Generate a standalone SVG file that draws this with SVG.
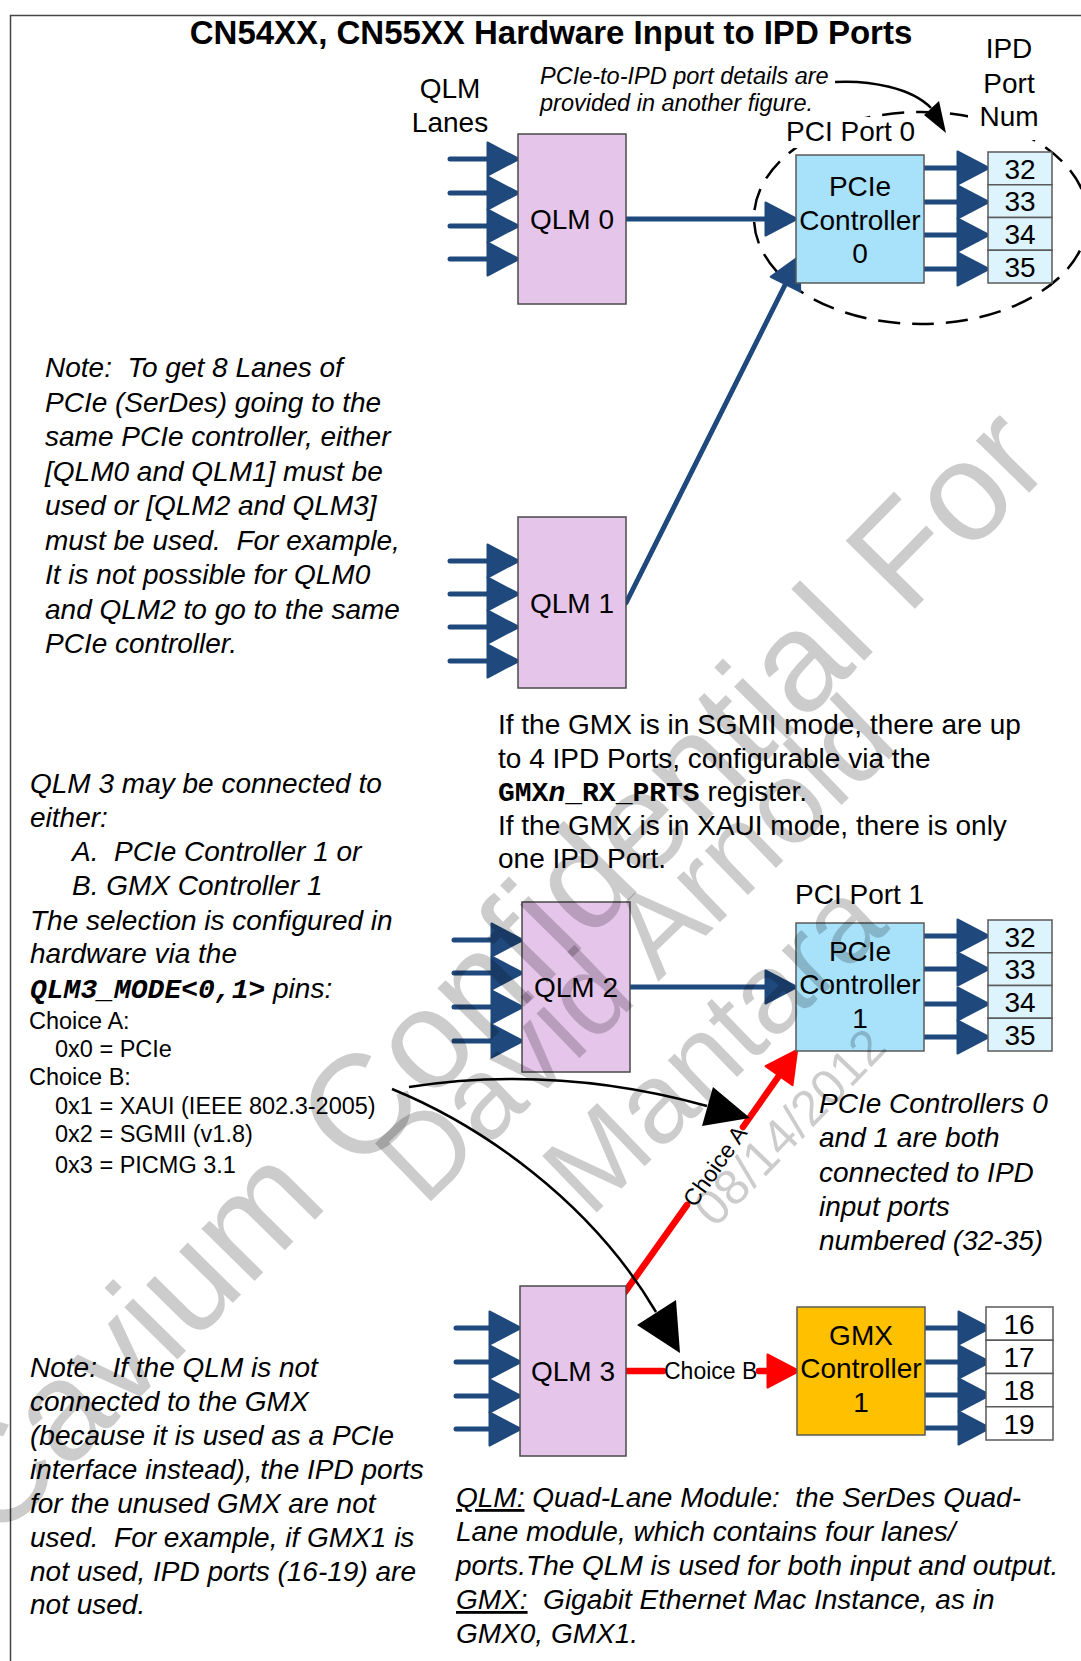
<svg xmlns="http://www.w3.org/2000/svg" width="1081" height="1661" viewBox="0 0 1081 1661">
<style>
text{font-family:"Liberation Sans",Arial,sans-serif;fill:#000;white-space:pre}
.t{font-size:28px}
.i{font-size:28px;font-style:italic}
.s{font-size:23.5px}
.c{font-size:28px;text-anchor:middle}
.mono{font-family:"Liberation Mono","Courier New",monospace;font-weight:bold}
.qlm{fill:#E6C5EB;stroke:#4a4a4a;stroke-width:1.5}
.pcie{fill:#A8E2FA;stroke:#5a5a5a;stroke-width:1.5}
.port{fill:#DDF3FD;stroke:#5a5a5a;stroke-width:1.5}
.gport{fill:#FFFFFF;stroke:#5a5a5a;stroke-width:1.5}
.gmx{fill:#FFC000;stroke:#5a5a5a;stroke-width:1.5}
.bl{stroke:#1F497D;stroke-width:5;fill:none;stroke-linecap:round;marker-end:url(#ab)}
.rd{stroke:#FF0000;stroke-width:6.5;fill:none;stroke-linecap:round}
.bk{stroke:#000;stroke-width:2.5;fill:none}
.wm{fill:#000;fill-opacity:0.2;font-family:"Liberation Sans",Arial,sans-serif}
</style>
<defs>
<marker id="ab" markerUnits="userSpaceOnUse" viewBox="0 0 34 36" refX="24" refY="18" markerWidth="34" markerHeight="36" orient="auto">
<path d="M1.5,1.5 L33,18 L1.5,34.5 Z" fill="#1F497D" stroke="#1F497D" stroke-width="2" stroke-linejoin="round"/>
</marker>
<marker id="ar" markerUnits="userSpaceOnUse" viewBox="0 0 34 36" refX="24" refY="18" markerWidth="34" markerHeight="36" orient="auto">
<path d="M1.5,1.5 L33,18 L1.5,34.5 Z" fill="#FF0000" stroke="#FF0000" stroke-width="2" stroke-linejoin="round"/>
</marker>
</defs>
<rect width="1081" height="1661" fill="#fff"/>
<g id="frame" stroke="#444" stroke-width="1.5" fill="none">
<path d="M10.5,1661 V15.5 H1081"/>
</g>

<g id="pci-port0-outline">
<ellipse cx="921" cy="218" rx="167" ry="106" fill="none" stroke="#000" stroke-width="2.5" stroke-dasharray="22 12"/>
</g>

<g id="labels">
<text x="551" y="44" style="font-size:33px;font-weight:bold;text-anchor:middle">CN54XX, CN55XX Hardware Input to IPD Ports</text>
<rect x="968" y="30" width="74" height="110" fill="#fff"/>
<text class="c" x="1009" y="58">IPD</text>
<text class="c" x="1009" y="92.5">Port</text>
<text class="c" x="1009" y="126">Num</text>
<text class="c" x="450" y="97.5">QLM</text>
<text class="c" x="450" y="131.5">Lanes</text>
<text x="540" y="84" style="font-size:23.5px;font-style:italic">PCIe-to-IPD port details are</text>
<text x="540" y="111" style="font-size:23.5px;font-style:italic">provided in another figure.</text>
<rect x="782" y="117" width="136" height="31" fill="#fff"/>
<text class="t" x="786" y="141">PCI Port 0</text>
<text class="t" x="795" y="904">PCI Port 1</text>
</g>

<g id="note1">
<text class="i" x="45" y="377">Note:  To get 8 Lanes of</text>
<text class="i" x="45" y="411.5">PCIe (SerDes) going to the</text>
<text class="i" x="45" y="446">same PCIe controller, either</text>
<text class="i" x="45" y="480.5">[QLM0 and QLM1] must be</text>
<text class="i" x="45" y="515">used or [QLM2 and QLM3]</text>
<text class="i" x="45" y="549.5">must be used.  For example,</text>
<text class="i" x="45" y="584">It is not possible for QLM0</text>
<text class="i" x="45" y="618.5">and QLM2 to go to the same</text>
<text class="i" x="45" y="653">PCIe controller.</text>
</g>

<g id="note-qlm3">
<text class="i" x="30" y="793">QLM 3 may be connected to</text>
<text class="i" x="30" y="827">either:</text>
<text class="i" x="72" y="861">A.  PCIe Controller 1 or</text>
<text class="i" x="72" y="895">B. GMX Controller 1</text>
<text class="i" x="30" y="930">The selection is configured in</text>
<text class="i" x="30" y="963">hardware via the</text>
<text class="i" x="30" y="998"><tspan class="mono">QLM3_MODE&lt;0,1&gt;</tspan> pins:</text>
<text class="s" x="29" y="1029">Choice A:</text>
<text class="s" x="55" y="1057">0x0 = PCIe</text>
<text class="s" x="29" y="1085">Choice B:</text>
<text class="s" x="55" y="1114">0x1 = XAUI (IEEE 802.3-2005)</text>
<text class="s" x="55" y="1142">0x2 = SGMII (v1.8)</text>
<text class="s" x="55" y="1173">0x3 = PICMG 3.1</text>
</g>

<g id="note-gmx-mode">
<text class="t" x="498" y="734">If the GMX is in SGMII mode, there are up</text>
<text class="t" x="498" y="767.5">to 4 IPD Ports, configurable via the</text>
<text class="t" x="498" y="801"><tspan class="mono">GMX<tspan font-style="italic">n</tspan>_RX_PRTS</tspan> register.</text>
<text class="t" x="498" y="835">If the GMX is in XAUI mode, there is only</text>
<text class="t" x="498" y="868">one IPD Port.</text>
</g>

<g id="note-pcie">
<text class="i" x="819" y="1113">PCIe Controllers 0</text>
<text class="i" x="819" y="1147">and 1 are both</text>
<text class="i" x="819" y="1182">connected to IPD</text>
<text class="i" x="819" y="1216">input ports</text>
<text class="i" x="819" y="1250">numbered (32-35)</text>
</g>

<g id="note-unused">
<text class="i" x="30" y="1377">Note:  If the QLM is not</text>
<text class="i" x="30" y="1411">connected to the GMX</text>
<text class="i" x="30" y="1445">(because it is used as a PCIe</text>
<text class="i" x="30" y="1479">interface instead), the IPD ports</text>
<text class="i" x="30" y="1513">for the unused GMX are not</text>
<text class="i" x="30" y="1547">used.  For example, if GMX1 is</text>
<text class="i" x="30" y="1581">not used, IPD ports (16-19) are</text>
<text class="i" x="30" y="1614">not used.</text>
</g>

<g id="glossary">
<text class="i" x="456" y="1507"><tspan text-decoration="underline">QLM:</tspan> Quad-Lane Module:  the SerDes Quad-</text>
<text class="i" x="456" y="1541">Lane module, which contains four lanes/</text>
<text class="i" x="456" y="1575">ports.The QLM is used for both input and output.</text>
<text class="i" x="456" y="1609"><tspan text-decoration="underline">GMX:</tspan>  Gigabit Ethernet Mac Instance, as in</text>
<text class="i" x="456" y="1643">GMX0, GMX1.</text>
</g>

<g id="connectors">
<!-- lanes -->
<line class="bl" x1="450" y1="159" x2="510" y2="159"/><line class="bl" x1="450" y1="193" x2="510" y2="193"/>
<line class="bl" x1="450" y1="226" x2="510" y2="226"/><line class="bl" x1="450" y1="259" x2="510" y2="259"/>
<line class="bl" x1="450" y1="561" x2="510" y2="561"/><line class="bl" x1="450" y1="594" x2="510" y2="594"/>
<line class="bl" x1="450" y1="627" x2="510" y2="627"/><line class="bl" x1="450" y1="661" x2="510" y2="661"/>
<line class="bl" x1="454" y1="940" x2="514" y2="940"/><line class="bl" x1="454" y1="973" x2="514" y2="973"/>
<line class="bl" x1="454" y1="1007" x2="514" y2="1007"/><line class="bl" x1="454" y1="1041" x2="514" y2="1041"/>
<line class="bl" x1="456" y1="1328" x2="512" y2="1328"/><line class="bl" x1="456" y1="1362" x2="512" y2="1362"/>
<line class="bl" x1="456" y1="1396" x2="512" y2="1396"/><line class="bl" x1="456" y1="1429" x2="512" y2="1429"/>
<!-- outputs -->
<line class="bl" x1="924" y1="168" x2="980" y2="168"/><line class="bl" x1="924" y1="202" x2="980" y2="202"/>
<line class="bl" x1="924" y1="235" x2="980" y2="235"/><line class="bl" x1="924" y1="269" x2="980" y2="269"/>
<line class="bl" x1="924" y1="936" x2="980" y2="936"/><line class="bl" x1="924" y1="969" x2="980" y2="969"/>
<line class="bl" x1="924" y1="1004" x2="980" y2="1004"/><line class="bl" x1="924" y1="1037" x2="980" y2="1037"/>
<line class="bl" x1="923" y1="1328" x2="981" y2="1328"/><line class="bl" x1="923" y1="1362" x2="981" y2="1362"/>
<line class="bl" x1="923" y1="1395" x2="981" y2="1395"/><line class="bl" x1="923" y1="1428" x2="981" y2="1428"/>
<!-- QLM to controllers -->
<line class="bl" x1="626" y1="219" x2="788" y2="219"/>
<line class="bl" x1="626" y1="603" x2="795.5" y2="264"/>
<line class="bl" x1="630" y1="987" x2="788" y2="987"/>
<!-- red choices -->
<path class="rd" d="M626,1371H663"/>
<path class="rd" d="M759,1371H790" marker-end="url(#ar)"/>
<path class="rd" d="M625,1292L687,1205"/>
<path class="rd" d="M743,1127L792,1057.3" marker-end="url(#ar)"/>
<text x="664" y="1379" style="font-size:23px">Choice B</text>
<text transform="translate(715,1166) rotate(-54.6)" x="0" y="8" style="font-size:23px;text-anchor:middle">Choice A</text>
<!-- black callout arrows -->
<path class="bk" d="M835,82 C870,80 912,88 931,108"/>
<polygon points="924,115 939,101 946,133" fill="#000"/>
<path class="bk" d="M409,1087 C520,1070 620,1082 707,1106"/>
<polygon points="713,1087 702,1126 750,1118" fill="#000"/>
<path class="bk" d="M392,1089 C480,1125 590,1200 656,1312"/>
<polygon points="637,1325 676,1300 680,1353" fill="#000"/>
</g>

<g id="qlm0"><rect class="qlm" x="518" y="134" width="108" height="170"/><text class="c" x="572" y="229">QLM 0</text></g>
<g id="qlm1"><rect class="qlm" x="518" y="517" width="108" height="171"/><text class="c" x="572" y="612.5">QLM 1</text></g>
<g id="qlm2"><rect class="qlm" x="522" y="902" width="108" height="170"/><text class="c" x="576" y="997">QLM 2</text></g>
<g id="qlm3"><rect class="qlm" x="520" y="1286" width="106" height="170"/><text class="c" x="573" y="1381">QLM 3</text></g>

<g id="pcie0"><rect class="pcie" x="796" y="155" width="128" height="128"/>
<text class="c" x="860" y="196">PCIe</text><text class="c" x="860" y="230">Controller</text><text class="c" x="860" y="263">0</text></g>
<g id="ports0">
<rect class="port" x="988" y="152" width="64" height="32.75"/><rect class="port" x="988" y="184.75" width="64" height="32.75"/>
<rect class="port" x="988" y="217.5" width="64" height="32.75"/><rect class="port" x="988" y="250.25" width="64" height="32.75"/>
<text class="c" x="1020" y="178.5">32</text><text class="c" x="1020" y="211">33</text><text class="c" x="1020" y="244">34</text><text class="c" x="1020" y="277">35</text>
</g>

<g id="pcie1"><rect class="pcie" x="796" y="923" width="128" height="128"/>
<text class="c" x="860" y="961">PCIe</text><text class="c" x="860" y="994">Controller</text><text class="c" x="860" y="1028">1</text></g>
<g id="ports1">
<rect class="port" x="988" y="920" width="64" height="32.75"/><rect class="port" x="988" y="952.75" width="64" height="32.75"/>
<rect class="port" x="988" y="985.5" width="64" height="32.75"/><rect class="port" x="988" y="1018.25" width="64" height="32.75"/>
<text class="c" x="1020" y="946.5">32</text><text class="c" x="1020" y="979">33</text><text class="c" x="1020" y="1012">34</text><text class="c" x="1020" y="1045">35</text>
</g>

<g id="gmx1"><rect class="gmx" x="797" y="1307" width="128" height="128"/>
<text class="c" x="861" y="1345">GMX</text><text class="c" x="861" y="1378">Controller</text><text class="c" x="861" y="1412">1</text></g>
<g id="ports-gmx">
<rect class="gport" x="986" y="1307" width="67" height="33.25"/><rect class="gport" x="986" y="1340.25" width="67" height="33.25"/>
<rect class="gport" x="986" y="1373.5" width="67" height="33.25"/><rect class="gport" x="986" y="1406.75" width="67" height="33.25"/>
<text class="c" x="1019" y="1334">16</text><text class="c" x="1019" y="1367">17</text><text class="c" x="1019" y="1400">18</text><text class="c" x="1019" y="1434">19</text>
</g>

<g id="watermark" class="wm">
<text class="wm" transform="translate(-5,1545) rotate(-45.5)" style="font-size:141px">Cavium Confidential For</text>
<text class="wm" transform="translate(424,1208) rotate(-44)" style="font-size:117px">David Arnold</text>
<text class="wm" transform="translate(590,1219) rotate(-44)" style="font-size:114px">Mantara</text>
<text class="wm" transform="translate(715,1229) rotate(-46)" style="font-size:50px">08/14/2012</text>
</g>
</svg>
